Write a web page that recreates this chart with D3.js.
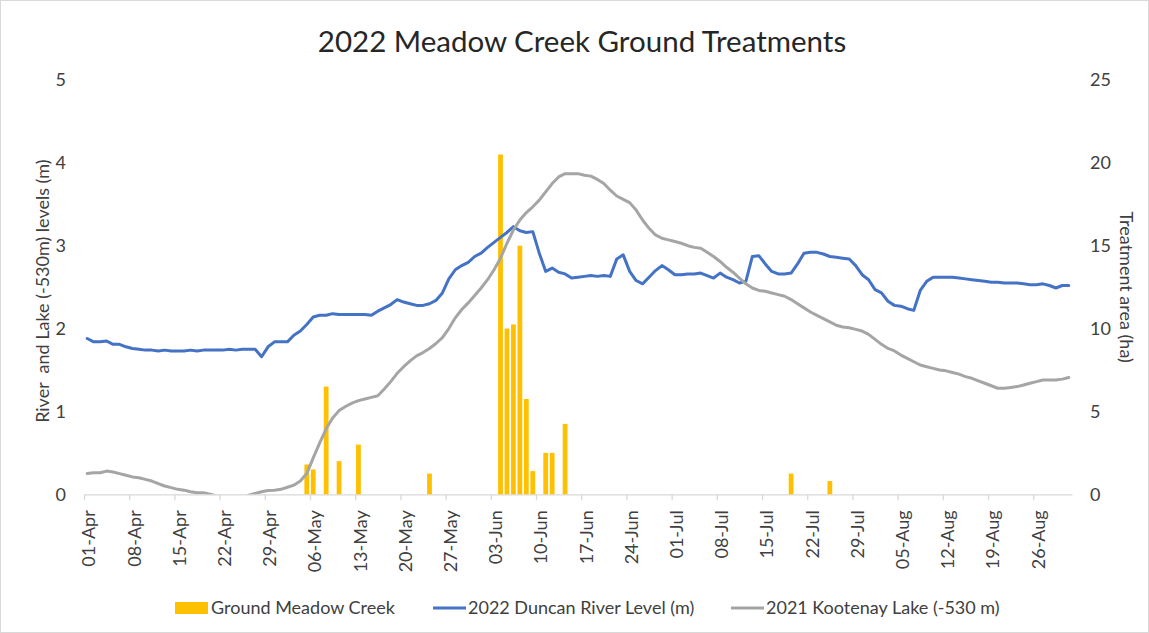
<!DOCTYPE html>
<html><head><meta charset="utf-8">
<script src="https://cdn.jsdelivr.net/npm/d3@7"></script>
<style>
body{margin:0;background:#fff;}
svg{display:block;font-family:Lato,"Open Sans",sans-serif;}
</style>
</head><body>
<svg id="chart" width="1149" height="633"></svg>
<script>
// ---------- data ----------
const startDate = "2022-04-01";
const endDate = "2022-09-01";

// 2022 Duncan River Level (m), daily from 01-Apr to 31-Aug
const riverLevel = [
1.88,1.84,1.84,1.85,1.81,1.81,1.78,1.76,1.75,1.74,
1.74,1.73,1.74,1.73,1.73,1.73,1.74,1.73,1.74,1.74,
1.74,1.74,1.75,1.74,1.75,1.75,1.75,1.66,1.78,1.84,
1.84,1.84,1.92,1.97,2.05,2.14,2.16,2.16,2.18,2.17,
2.17,2.17,2.17,2.17,2.16,2.21,2.25,2.29,2.35,2.32,
2.30,2.28,2.28,2.30,2.34,2.43,2.60,2.71,2.76,2.80,
2.87,2.91,2.98,3.04,3.10,3.16,3.23,3.18,3.16,3.17,
2.91,2.69,2.73,2.68,2.66,2.61,2.62,2.63,2.64,2.63,
2.64,2.63,2.84,2.89,2.69,2.58,2.54,2.62,2.70,2.76,
2.71,2.65,2.65,2.66,2.66,2.67,2.64,2.61,2.67,2.62,
2.59,2.55,2.57,2.87,2.88,2.78,2.69,2.66,2.66,2.67,
2.78,2.91,2.92,2.92,2.90,2.87,2.86,2.85,2.84,2.76,
2.65,2.59,2.47,2.43,2.33,2.28,2.27,2.24,2.22,2.46,
2.57,2.62,2.62,2.62,2.62,2.61,2.60,2.59,2.58,2.57,
2.56,2.56,2.55,2.55,2.55,2.54,2.53,2.53,2.54,2.52,
2.49,2.52,2.52
];

// 2021 Kootenay Lake (-530 m), daily from 01-Apr to 31-Aug
const lakeLevel = [
0.25,0.26,0.26,0.28,0.27,0.25,0.23,0.21,0.20,0.18,
0.16,0.13,0.10,0.08,0.06,0.05,0.03,0.02,0.02,0.00,
-0.02,-0.04,-0.05,-0.05,-0.04,-0.01,0.01,0.03,0.045,0.05,
0.06,0.085,0.11,0.16,0.25,0.44,0.62,0.79,0.92,1.01,
1.06,1.10,1.13,1.15,1.17,1.19,1.27,1.36,1.46,1.54,
1.61,1.67,1.71,1.76,1.82,1.89,2.00,2.13,2.23,2.31,
2.40,2.49,2.59,2.71,2.85,3.03,3.19,3.31,3.40,3.47,
3.55,3.65,3.75,3.83,3.87,3.87,3.87,3.85,3.84,3.80,
3.75,3.67,3.60,3.56,3.52,3.43,3.31,3.21,3.13,3.09,
3.07,3.05,3.03,3.00,2.98,2.97,2.92,2.87,2.81,2.74,
2.68,2.61,2.54,2.49,2.46,2.45,2.43,2.41,2.39,2.35,
2.30,2.25,2.20,2.16,2.12,2.08,2.04,2.02,2.01,1.99,
1.97,1.93,1.87,1.81,1.76,1.73,1.68,1.64,1.60,1.56,
1.54,1.52,1.50,1.49,1.47,1.45,1.42,1.40,1.37,1.34,
1.31,1.28,1.28,1.29,1.30,1.32,1.34,1.36,1.38,1.38,
1.38,1.39,1.41
];

// Ground Meadow Creek treatments (ha)
const treatmentDates = ["2022-05-05","2022-05-06","2022-05-08","2022-05-10","2022-05-13",
  "2022-05-24","2022-06-04","2022-06-05","2022-06-06","2022-06-07","2022-06-08",
  "2022-06-09","2022-06-11","2022-06-12","2022-06-14","2022-07-19","2022-07-25"];
const treatmentArea = [1.8,1.5,6.5,2.0,3.0,1.25,20.5,10.0,10.25,15.0,5.75,1.4,2.5,2.5,4.25,1.25,0.8];

const tickDates = ["2022-04-01","2022-04-08","2022-04-15","2022-04-22","2022-04-29",
  "2022-05-06","2022-05-13","2022-05-20","2022-05-27","2022-06-03","2022-06-10",
  "2022-06-17","2022-06-24","2022-07-01","2022-07-08","2022-07-15","2022-07-22",
  "2022-07-29","2022-08-05","2022-08-12","2022-08-19","2022-08-26"];
const leftTicks = [0,1,2,3,4,5];
const rightTicks = [0,5,10,15,20,25];

const titleText = "2022 Meadow Creek Ground Treatments";
const leftTitle = "River  and Lake (-530m) levels (m)";
const rightTitle = "Treatment area (ha)";
const seriesNames = ["Ground Meadow Creek","2022 Duncan River Level (m)","2021 Kootenay Lake (-530 m)"];

// ---------- layout ----------
const W = 1149, H = 633;
const plot = {left: 84, right: 1072, top: 80, bottom: 494.3};
const colBar = "#FFC000", colBlue = "#4472C4", colGray = "#A5A5A5";
const textCol = "#404040";

const parse = d3.utcParse("%Y-%m-%d");
const fmt = d3.utcFormat("%d-%b");
const start = parse(startDate);
const days = riverLevel.map((v,i) => d3.utcDay.offset(start, i));

const x = d3.scaleUtc().domain([start, parse(endDate)]).range([plot.left, plot.right]);
const yL = d3.scaleLinear().domain([0,5]).range([plot.bottom, plot.top]);
const yR = d3.scaleLinear().domain([0,25]).range([plot.bottom, plot.top]);
const dayW = x(d3.utcDay.offset(start,1)) - x(start);
const mid = d => x(d3.utcHour.offset(d, 12));

const svg = d3.select("#chart");
svg.append("rect").attr("x",0.5).attr("y",0.5).attr("width",W-1).attr("height",H-1)
  .attr("fill","#fff").attr("stroke","#D9D9D9");

svg.append("defs").append("clipPath").attr("id","clip").append("rect")
  .attr("x",plot.left).attr("y",plot.top-5).attr("width",plot.right-plot.left)
  .attr("height",plot.bottom-plot.top+5);

// title
svg.append("text").attr("x",(plot.left+plot.right)/2 + 4).attr("y",42).attr("dy","0.35em")
  .attr("text-anchor","middle").attr("font-size",29.5).attr("fill","#262626").text(titleText);

// x axis
const xAxis = d3.axisBottom(x).tickValues(tickDates.map(parse)).tickFormat(fmt).tickSize(6).tickSizeOuter(0);
const gx = svg.append("g").attr("transform",`translate(0,${plot.bottom})`).call(xAxis);
gx.select(".domain").attr("stroke","#D9D9D9").attr("stroke-width",1.3);
gx.selectAll(".tick line").attr("stroke","#D9D9D9").attr("stroke-width",1.3);
gx.selectAll(".tick text")
  .attr("font-family","Lato").attr("font-size",18).attr("fill",textCol)
  .attr("text-anchor","end").attr("dy","0.35em")
  .attr("transform","translate(4.5,16) rotate(-90)").attr("x",0).attr("y",0);

// left axis
const gl = svg.append("g").attr("transform",`translate(${plot.left},0)`)
  .call(d3.axisLeft(yL).tickValues(leftTicks).tickFormat(d3.format("d")).tickSize(0).tickPadding(18));
gl.select(".domain").remove();
gl.selectAll("text").attr("font-family","Lato").attr("font-size",18).attr("fill",textCol);

// right axis
const gr = svg.append("g").attr("transform",`translate(${plot.right},0)`)
  .call(d3.axisRight(yR).tickValues(rightTicks).tickFormat(d3.format("d")).tickSize(0).tickPadding(18));
gr.select(".domain").remove();
gr.selectAll("text").attr("font-family","Lato").attr("font-size",18).attr("fill",textCol);

// axis titles
svg.append("text").attr("transform",`translate(43,${(plot.top+plot.bottom)/2 + 4}) rotate(-90)`)
  .attr("dy","0.35em").attr("text-anchor","middle").attr("font-size",18).attr("fill",textCol)
  .style("white-space","pre").text(leftTitle);
svg.append("text").attr("transform",`translate(1126,${(plot.top+plot.bottom)/2}) rotate(90)`)
  .attr("dy","0.35em").attr("text-anchor","middle").attr("font-size",18).attr("fill",textCol)
  .text(rightTitle);

// bars
const bw = dayW*0.74;
svg.append("g").selectAll("rect").data(treatmentDates).join("rect")
  .attr("x", d => mid(parse(d)) - bw/2)
  .attr("width", bw)
  .attr("y", (d,i) => yR(treatmentArea[i]))
  .attr("height", (d,i) => yR(0) - yR(treatmentArea[i]))
  .attr("fill", colBar);

// lines
const line = d3.line().x((d,i) => mid(days[i])).y(d => yL(d));
const gLines = svg.append("g").attr("clip-path","url(#clip)");
gLines.append("path").datum(riverLevel).attr("d",line).attr("fill","none")
  .attr("stroke",colBlue).attr("stroke-width",3).attr("stroke-linejoin","round").attr("stroke-linecap","round");
gLines.append("path").datum(lakeLevel).attr("d",line).attr("fill","none")
  .attr("stroke",colGray).attr("stroke-width",3).attr("stroke-linejoin","round").attr("stroke-linecap","round");

// legend
const ly = 608;
const leg = svg.append("g").attr("font-size",18).attr("fill",textCol);
leg.append("rect").attr("x",175).attr("y",ly-6).attr("width",33).attr("height",12).attr("fill",colBar);
leg.append("text").attr("x",211).attr("y",ly).attr("dy","0.35em").attr("fill",textCol).text(seriesNames[0]);
leg.append("line").attr("x1",433).attr("x2",466).attr("y1",ly).attr("y2",ly).attr("stroke",colBlue).attr("stroke-width",3);
leg.append("text").attr("x",468).attr("y",ly).attr("dy","0.35em").attr("fill",textCol).text(seriesNames[1]);
leg.append("line").attr("x1",731).attr("x2",764).attr("y1",ly).attr("y2",ly).attr("stroke",colGray).attr("stroke-width",3);
leg.append("text").attr("x",766).attr("y",ly).attr("dy","0.35em").attr("fill",textCol).text(seriesNames[2]);
</script>
</body></html>
